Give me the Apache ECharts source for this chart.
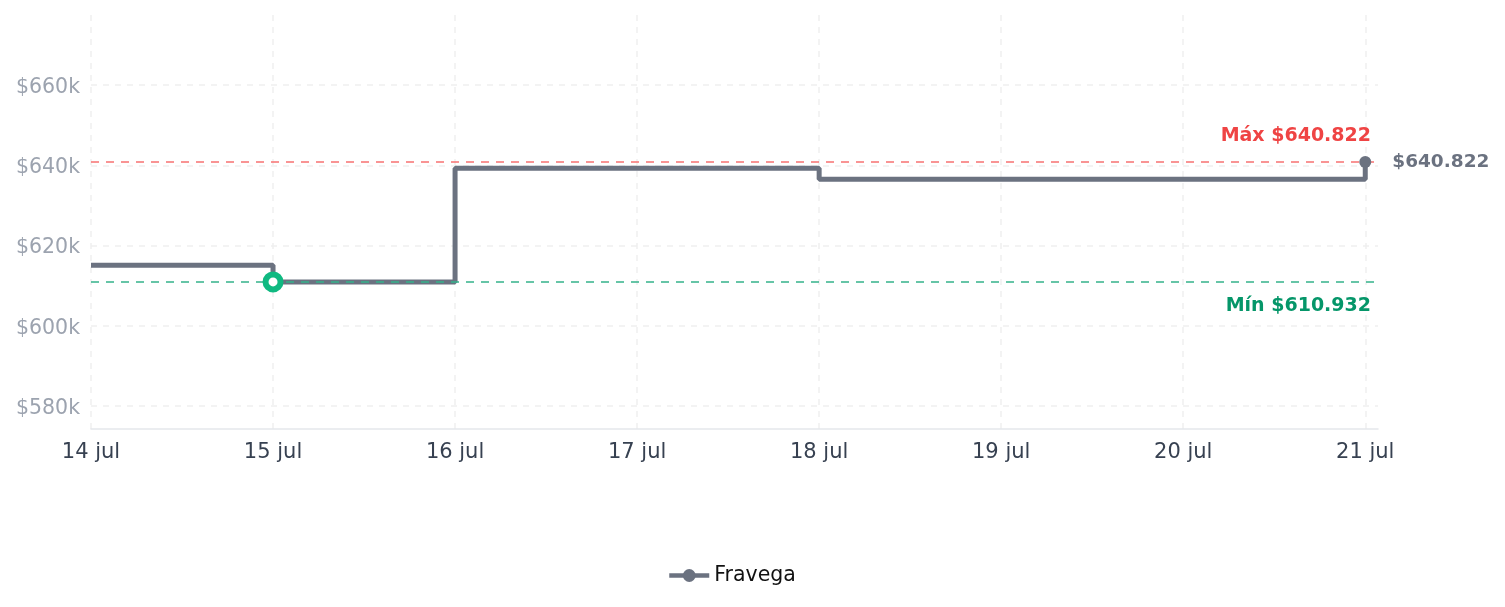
<!DOCTYPE html>
<html>
<head>
<meta charset="utf-8">
<script src="https://cdn.jsdelivr.net/npm/echarts@6/dist/echarts.min.js"></script>
<style>
  html, body { margin: 0; padding: 0; background: #fff; }
  #chart { width: 1505px; height: 607px; }
</style>
</head>
<body>
<div id="chart"></div>
<script>
// fechas y precios (Fravega)
var dates = ["2025-07-14", "2025-07-15", "2025-07-16", "2025-07-18", "2025-07-21"];
var prices = [615100, 610932, 639240, 636500, 640822];
var dayLabels = ["14 jul", "15 jul", "16 jul", "17 jul", "18 jul", "19 jul", "20 jul", "21 jul"];
var seriesName = "Fravega";

var yMin = 574270;
var yMax = 677450;

function fmtPrice(v) {
  // 640822 -> $640.822
  return "$" + String(Math.round(v)).replace(/\B(?=(\d{3})+(?!\d))/g, ".");
}

var t0 = Date.parse(dates[0]);
var xs = dates.map(function (d) { return (Date.parse(d) - t0) / 864e5; });
var maxPrice = Math.max.apply(null, prices);
var minPrice = Math.min.apply(null, prices);
var minIdx = prices.indexOf(minPrice);
var lastIdx = prices.length - 1;

var linePoints = xs.map(function (x, i) {
  return { value: [x, prices[i]], symbolSize: 0 };
});

// puntos destacados: minimo y ultimo precio
var marks = [
  {
    value: [xs[minIdx], prices[minIdx]],
    symbolSize: 15,
    itemStyle: { color: "#fff", borderColor: "#10b981", borderWidth: 6, opacity: 1 }
  },
  {
    value: [xs[lastIdx], prices[lastIdx]],
    symbolSize: 12,
    itemStyle: { color: "#6b7280", opacity: 1 },
    label: {
      show: true,
      position: "right",
      distance: 21,
      formatter: function (p) { return fmtPrice(p.value[1]); },
      color: "#6b7280",
      fontWeight: "bold",
      fontSize: 18.5
    }
  }
];

var chartOption = {
  animation: false,
  textStyle: { fontFamily: "DejaVu Sans" },
  grid: { left: 91, right: 127, top: 15, bottom: 178 },
  legend: {
    bottom: 16,
    left: 662,
    itemWidth: 40,
    itemHeight: 16,
    itemGap: 10,
    lineStyle: { width: 4.5 },
    textStyle: { fontSize: 20.5, color: "#111" },
    data: [seriesName]
  },
  xAxis: {
    type: "value",
    min: 0,
    max: 7.07,
    interval: 1,
    axisLine: { show: true, lineStyle: { color: "#e5e7eb", width: 1.5 } },
    axisTick: { show: false },
    axisLabel: {
      fontSize: 21,
      color: "#374151",
      margin: 13,
      showMaxLabel: false,
      formatter: function (v) { return dayLabels[v] || ""; }
    },
    splitLine: {
      show: true,
      showMaxLine: false,
      lineStyle: { color: "#efefef", type: [6, 6], width: 1.5 }
    }
  },
  yAxis: {
    type: "value",
    min: yMin,
    max: yMax,
    axisLine: { show: false },
    axisTick: { show: false },
    axisLabel: {
      margin: 11,
      showMinLabel: false,
      showMaxLabel: false,
      formatter: function (v) { return "{p|$" + Math.round(v / 1000) + "k}"; },
      rich: {
        p: { fontSize: 20.5, color: "#9ca3af", padding: [5, 0, 0, 0] }
      }
    },
    splitLine: {
      show: true,
      showMinLine: false,
      showMaxLine: false,
      lineStyle: { color: "#efefef", type: [6, 6], width: 1.5 }
    }
  },
  series: [
    {
      name: seriesName,
      type: "line",
      step: "end",
      symbol: "circle",
      showSymbol: true,
      lineStyle: { color: "#6b7280", width: 5 },
      itemStyle: { color: "#6b7280" },
      data: linePoints,
      markLine: {
        silent: true,
        symbol: "none",
        data: [
          {
            yAxis: maxPrice,
            lineStyle: { color: "#f87171", type: [8, 7], width: 1.5 },
            label: {
              show: true,
              position: "insideEndTop",
              formatter: "Máx " + fmtPrice(maxPrice),
              color: "#ef4444",
              fontWeight: "bold",
              fontSize: 19,
              distance: [7, 16]
            }
          },
          {
            yAxis: minPrice,
            lineStyle: { color: "#34b38a", type: [8, 7], width: 1.5 },
            label: {
              show: true,
              position: "insideEndBottom",
              formatter: "Mín " + fmtPrice(minPrice),
              color: "#059669",
              fontWeight: "bold",
              fontSize: 19,
              distance: [7, 15]
            }
          }
        ]
      }
    },
    {
      type: "scatter",
      z: 5,
      symbol: "circle",
      data: marks
    }
  ]
};

var myChart = echarts.init(document.getElementById("chart"));
myChart.setOption(chartOption);
</script>
</body>
</html>
